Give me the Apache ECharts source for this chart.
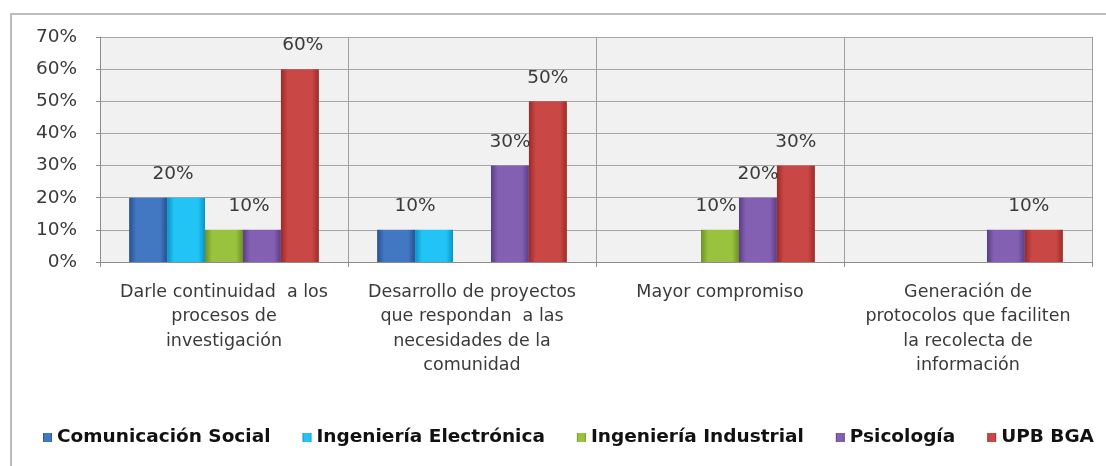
<!DOCTYPE html>
<html>
<head>
<meta charset="utf-8">
<script src="https://cdn.jsdelivr.net/npm/echarts@6/dist/echarts.min.js"></script>
<style>
  html, body { margin: 0; padding: 0; background: #ffffff; }
  #chart { width: 1106px; height: 466px; }
</style>
</head>
<body>
<div id="chart"></div>
<script>
// Categories (axis labels, wrapped by hand)
const categories = [
  'Darle continuidad  a los\nprocesos de\ninvestigación',
  'Desarrollo de proyectos\nque respondan  a las\nnecesidades de la\ncomunidad',
  'Mayor compromiso',
  'Generación de\nprotocolos que faciliten\nla recolecta de\ninformación'
];

// Series names
const seriesNames = [
  'Comunicación Social',
  'Ingeniería Electrónica',
  'Ingeniería Industrial',
  'Psicología',
  'UPB BGA'
];

// Values in percent, one array per series
const comunicacionSocial   = [20, 10, 0, 0];
const ingElectronica       = [20, 10, 0, 0];
const ingIndustrial        = [10, 0, 10, 0];
const psicologia           = [10, 30, 20, 10];
const upbBga               = [60, 50, 30, 10];

// Y axis ticks
const yMax = 70;
const yStep = 10;

const seriesValues = [comunicacionSocial, ingElectronica, ingIndustrial, psicologia, upbBga];

// Which bars carry a value label, and a small horizontal nudge for each
// [seriesIndex, categoryIndex, dx]
const labelled = [
  [1, 0, -13], [3, 0, -13], [4, 0, 3],
  [1, 1, -19], [3, 1, 0], [4, 1, 0],
  [2, 2, -4], [3, 2, 0], [4, 2, 0],
  [4, 3, -15]
];

// Bar colours: [edge, center]
const palette = [
  ['#27508f', '#4277c2'],
  ['#0a93c4', '#22c3f5'],
  ['#6d9024', '#99c23e'],
  ['#5a3d85', '#8460b3'],
  ['#9a2b28', '#c94744']
];

function barFill(p) {
  return new echarts.graphic.LinearGradient(0, 0, 1, 0, [
    { offset: 0, color: p[0] },
    { offset: 0.18, color: p[1] },
    { offset: 0.82, color: p[1] },
    { offset: 1, color: p[0] }
  ]);
}

const textColor = '#3a3a3a';
const fontFamily = '"DejaVu Sans", Verdana, sans-serif';

const series = seriesValues.map((vals, si) => ({
  name: seriesNames[si],
  type: 'bar',
  barGap: '0%',
  barCategoryGap: '23.5%',
  itemStyle: { color: barFill(palette[si]), borderWidth: 0 },
  data: vals.map((v, ci) => {
    const hit = labelled.find(l => l[0] === si && l[1] === ci);
    const item = { value: v };
    if (hit) {
      item.label = {
        show: true,
        position: 'top',
        distance: 14,
        offset: [hit[2], 0],
        formatter: '{c}%',
        color: textColor,
        fontSize: 18.5,
        fontFamily: fontFamily
      };
    }
    return item;
  }),
  emphasis: { disabled: true }
}));

const chart = echarts.init(document.getElementById('chart'), null, { renderer: 'canvas' });

chart.setOption({
  animation: false,
  backgroundColor: '#ffffff',
  textStyle: { fontFamily: fontFamily },
  graphic: [{
    type: 'rect',
    shape: { x: 11, y: 14, width: 1300, height: 600 },
    style: { fill: 'none', stroke: '#a8a8a8', lineWidth: 1.5 },
    silent: true
  }],
  grid: {
    left: 100, right: 14, top: 37, bottom: 204,
    show: true, backgroundColor: '#f1f1f1', borderWidth: 0
  },
  legend: {
    data: seriesNames,
    left: 43,
    top: 428,
    width: 1063,
    padding: 0,
    icon: 'rect',
    itemWidth: 9,
    itemHeight: 9,
    itemGap: 32,
    textStyle: { color: '#111111', fontSize: 18.5, fontWeight: 'bold', fontFamily: fontFamily }
  },
  xAxis: {
    type: 'category',
    data: categories,
    axisLine: { show: true, lineStyle: { color: '#8c8c8c', width: 1 } },
    axisTick: { show: true, length: 5, lineStyle: { color: '#8c8c8c' } },
    splitLine: { show: true, lineStyle: { color: '#9e9e9e', width: 1 } },
    axisLabel: {
      interval: 0,
      margin: 18,
      color: textColor,
      fontSize: 17.5,
      lineHeight: 24.5,
      fontFamily: fontFamily
    }
  },
  yAxis: {
    type: 'value',
    min: 0,
    max: yMax,
    interval: yStep,
    axisLine: { show: true, lineStyle: { color: '#8c8c8c', width: 1 } },
    axisTick: { show: true, length: 4, lineStyle: { color: '#8c8c8c' } },
    splitLine: { show: true, lineStyle: { color: '#a6a6a6', width: 1 } },
    axisLabel: {
      formatter: '{value}%',
      margin: 23,
      color: textColor,
      fontSize: 18.5,
      fontFamily: fontFamily
    }
  },
  series: series
});
</script>
</body>
</html>
